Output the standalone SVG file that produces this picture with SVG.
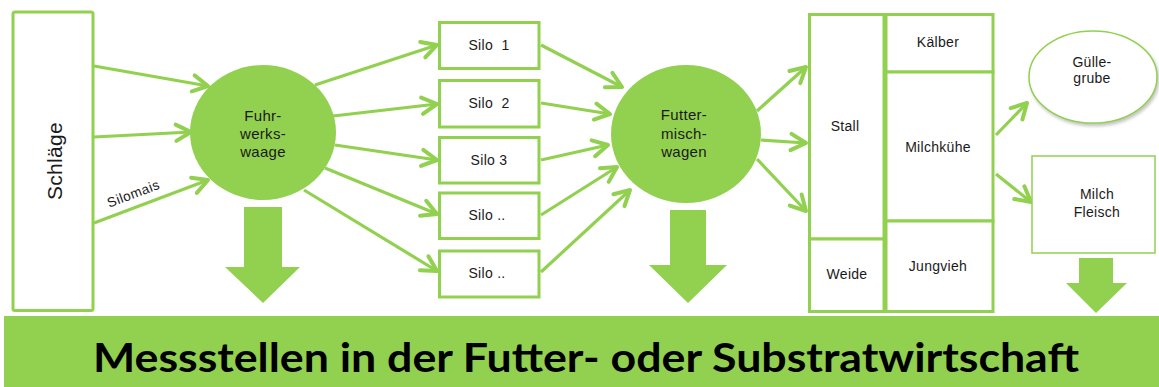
<svg xmlns="http://www.w3.org/2000/svg" width="1159" height="387" viewBox="0 0 1159 387">
  <style>
    .box { fill: #ffffff; stroke: #92D050; stroke-width: 3; }
    .thin { fill: #ffffff; stroke: #92D050; stroke-width: 1.5; }
    .hub { fill: #92D050; }
    .lbl { font-family: "Liberation Sans", Arial, sans-serif; font-size: 14px; fill: #1a1a1a; text-anchor: middle; letter-spacing: 0.3px; }
    .hubtxt { font-family: "Liberation Sans", Arial, sans-serif; font-size: 15px; fill: #1a1a1a; text-anchor: middle; letter-spacing: 0.3px; }
    .conn line { stroke: #92D050; stroke-width: 3.2; fill: none; marker-end: url(#open); }
    .down { fill: #92D050; }
    .title { font-family: Lato, "Open Sans", "Liberation Sans", sans-serif; font-weight: bold; font-size: 41px; fill: #000000; }
  </style>
  <defs>
    <marker id="open" markerUnits="userSpaceOnUse" markerWidth="20" markerHeight="20" viewBox="0 0 16 16" refX="14" refY="8" orient="auto" overflow="visible">
      <path d="M2,1.5 L14,8 L2,14.5" fill="none" stroke="#92D050" stroke-width="3.2" stroke-linecap="round" stroke-linejoin="round"/>
    </marker>
    <filter id="shadow" x="-20%" y="-20%" width="140%" height="150%">
      <feDropShadow dx="1.5" dy="2.5" stdDeviation="1.5" flood-color="#7f7f7f" flood-opacity="0.45"/>
    </filter>
  </defs>

  <!-- connectors -->
  <g id="connectors" class="conn">
    <!-- Schläge to Fuhrwerkswaage -->
    <line x1="94" y1="66" x2="208" y2="86"/>
    <line x1="94" y1="137" x2="191" y2="132"/>
    <line x1="94" y1="223" x2="208" y2="180"/>
    <!-- Fuhrwerkswaage to silos -->
    <line x1="315" y1="85" x2="437" y2="45"/>
    <line x1="333" y1="116" x2="437" y2="104"/>
    <line x1="335" y1="145" x2="437" y2="160"/>
    <line x1="325" y1="168" x2="437" y2="214"/>
    <line x1="304" y1="190" x2="437" y2="271"/>
    <!-- silos to Futtermischwagen -->
    <line x1="541" y1="45" x2="622" y2="87"/>
    <line x1="541" y1="103" x2="610" y2="114"/>
    <line x1="541" y1="160" x2="608" y2="145"/>
    <line x1="541" y1="215" x2="617" y2="167"/>
    <line x1="541" y1="272" x2="630" y2="190"/>
    <!-- Futtermischwagen to Stall -->
    <line x1="757" y1="111" x2="806" y2="67"/>
    <line x1="761" y1="140" x2="806" y2="143"/>
    <line x1="757" y1="159" x2="806" y2="211"/>
    <!-- Milchkühe to outputs -->
    <line x1="996" y1="135" x2="1027" y2="103"/>
    <line x1="996" y1="174" x2="1031" y2="202"/>
  </g>

  <!-- fields -->
  <g id="schlaege">
    <rect class="box" x="13" y="12" width="80" height="298.5" rx="2"/>
    <text class="lbl" style="font-size:21px" transform="translate(61.5,161) rotate(-90)">Schläge</text>
    <text class="lbl" style="font-size:13.5px;letter-spacing:0.5px" transform="translate(135,198) rotate(-20.7)">Silomais</text>
  </g>

  <!-- weighbridge -->
  <g id="fuhrwerkswaage">
    <ellipse class="hub" cx="263" cy="132.5" rx="73" ry="67.5"/>
    <text class="hubtxt" x="263" y="121">Fuhr-</text>
    <text class="hubtxt" x="263" y="139">werks-</text>
    <text class="hubtxt" x="263" y="157">waage</text>
  </g>
  <polygon class="down" points="244,207 282,207 282,267 300,267 263,303 225,267 244,267"/>

  <!-- silos -->
  <g id="silo1">
    <rect class="box" x="439.5" y="22.5" width="99.5" height="46"/>
    <text class="lbl" x="489" y="50" xml:space="preserve">Silo  1</text>
  </g>
  <g id="silo2">
    <rect class="box" x="439.5" y="80.5" width="99.5" height="46.5"/>
    <text class="lbl" x="489" y="108" xml:space="preserve">Silo  2</text>
  </g>
  <g id="silo3">
    <rect class="box" x="439.5" y="137.5" width="99.5" height="45.5"/>
    <text class="lbl" x="489" y="165">Silo 3</text>
  </g>
  <g id="silo4">
    <rect class="box" x="439.5" y="193" width="99.5" height="45.5"/>
    <text class="lbl" x="487" y="220">Silo ..</text>
  </g>
  <g id="silo5">
    <rect class="box" x="439.5" y="251" width="99.5" height="46"/>
    <text class="lbl" x="487" y="278">Silo ..</text>
  </g>

  <!-- feed mixer -->
  <g id="futtermischwagen">
    <ellipse class="hub" cx="686" cy="134" rx="75" ry="69"/>
    <text class="hubtxt" x="684" y="120">Futter-</text>
    <text class="hubtxt" x="684" y="139">misch-</text>
    <text class="hubtxt" x="684" y="157">wagen</text>
  </g>
  <polygon class="down" points="670,210 706,210 706,265 727,265 688,303 649,265 670,265"/>

  <!-- barn sections -->
  <g id="stall">
    <rect class="box" x="809.5" y="14.5" width="74.5" height="224.5"/>
    <text class="lbl" x="845" y="131">Stall</text>
  </g>
  <g id="weide">
    <rect class="box" x="809.5" y="239" width="74.5" height="72.5"/>
    <text class="lbl" x="847" y="279">Weide</text>
  </g>
  <g id="kaelber">
    <rect class="box" x="886" y="14.5" width="107" height="57.5"/>
    <text class="lbl" x="938" y="47">Kälber</text>
  </g>
  <g id="milchkuehe">
    <rect class="box" x="886" y="72" width="107" height="149"/>
    <text class="lbl" x="938" y="152">Milchkühe</text>
  </g>
  <g id="jungvieh">
    <rect class="box" x="886" y="221" width="107" height="90.5"/>
    <text class="lbl" x="938" y="271">Jungvieh</text>
  </g>

  <!-- outputs -->
  <g id="guellegrube">
    <ellipse class="thin" cx="1093" cy="77" rx="64" ry="46" filter="url(#shadow)"/>
    <text class="lbl" x="1092" y="67">Gülle-</text>
    <text class="lbl" x="1092" y="83">grube</text>
  </g>
  <g id="milch-fleisch">
    <rect class="thin" x="1032" y="156" width="123" height="97"/>
    <text class="lbl" x="1097" y="199">Milch</text>
    <text class="lbl" x="1097" y="217">Fleisch</text>
  </g>
  <polygon class="down" points="1079,258 1113,258 1113,283 1127,283 1096,313 1066,283 1079,283"/>

  <!-- banner -->
  <g id="banner">
    <rect x="4" y="316" width="1155" height="71" fill="#92D050"/>
    <text class="title" x="93" y="372" textLength="986" lengthAdjust="spacingAndGlyphs">Messstellen in der Futter- oder Substratwirtschaft</text>
  </g>
</svg>
